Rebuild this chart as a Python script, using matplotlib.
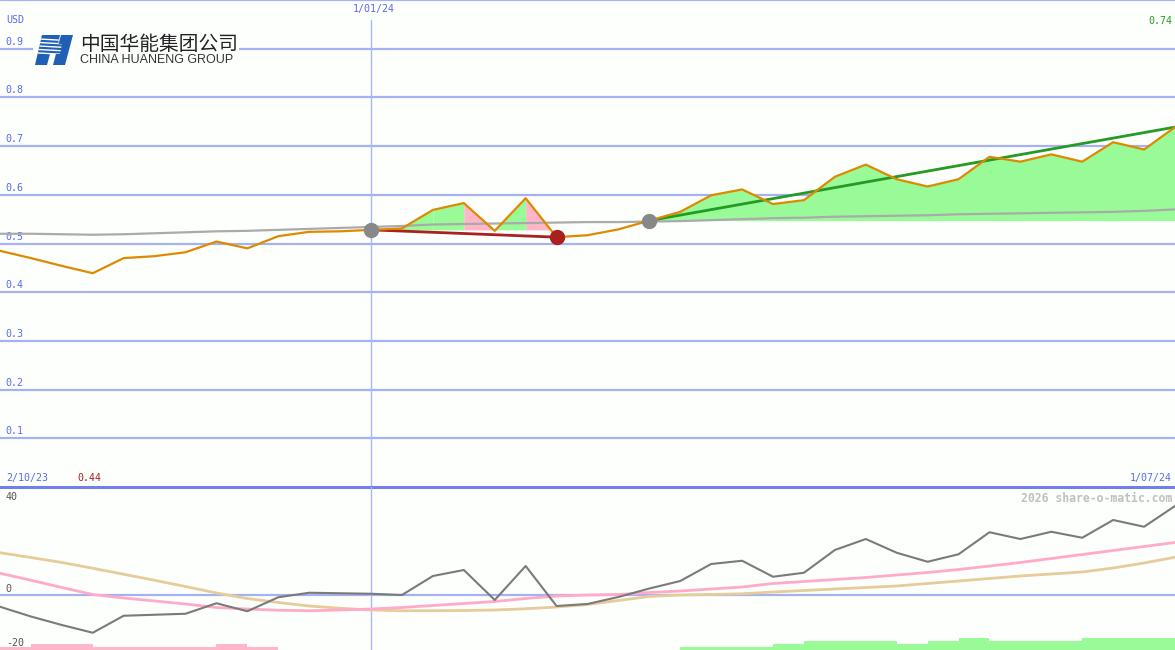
import matplotlib
matplotlib.use("Agg")
import matplotlib.pyplot as plt
from matplotlib.patches import Polygon, Rectangle

# weekly closes, USD (index 0 = 2/10/23, index 12 = 1/01/24, index 38 = 1/07/24)
price = [0.485, 0.470, 0.454, 0.439, 0.470, 0.474, 0.482, 0.504, 0.490, 0.515,
         0.524, 0.525, 0.528, 0.531, 0.569, 0.583, 0.526, 0.593, 0.513, 0.517,
         0.529, 0.547, 0.565, 0.599, 0.611, 0.581, 0.589, 0.637, 0.662, 0.632,
         0.617, 0.632, 0.678, 0.668, 0.683, 0.668, 0.708, 0.693, 0.739]
long_ma = [0.520, 0.520, 0.519, 0.518, 0.519, 0.521, 0.523, 0.525, 0.526, 0.528,
           0.530, 0.532, 0.534, 0.536, 0.539, 0.540, 0.541, 0.542, 0.543, 0.544,
           0.544, 0.545, 0.546, 0.548, 0.550, 0.552, 0.553, 0.555, 0.556, 0.557,
           0.558, 0.560, 0.561, 0.562, 0.563, 0.564, 0.565, 0.567, 0.570]
down_trend = (12, 18)
up_trend = (21, 38)

# lower panel
osc = [-4.7, -8.6, -12.0, -15.1, -8.3, -7.9, -7.5, -3.3, -6.5, -0.9,
       0.9, 0.7, 0.5, 0.0, 7.6, 10.0, -2.0, 11.6, -4.4, -3.6,
       -0.8, 2.6, 5.6, 12.4, 13.7, 7.3, 8.9, 18.0, 22.4, 16.9,
       13.3, 16.3, 25.1, 22.4, 25.3, 22.9, 30.0, 27.3, 35.6]
osc_fast = [8.7, 5.9, 3.0, 0.2, -1.2, -2.4, -3.6, -5.0, -5.6, -6.1,
            -6.3, -6.0, -5.6, -5.0, -4.2, -3.4, -2.6, -1.4, -0.4, 0.0,
            0.2, 1.0, 1.6, 2.4, 3.2, 4.6, 5.4, 6.2, 7.0, 8.0,
            9.0, 10.2, 11.6, 13.0, 14.6, 16.2, 17.8, 19.4, 21.0]
osc_slow = [16.9, 15.0, 13.0, 10.7, 8.3, 5.9, 3.4, 0.8, -1.4, -3.0,
            -4.4, -5.3, -6.0, -6.3, -6.3, -6.2, -6.0, -5.5, -4.8, -3.8,
            -2.2, -0.6, 0.0, 0.2, 0.5, 1.2, 1.8, 2.4, 3.0, 3.6,
            4.6, 5.6, 6.6, 7.6, 8.4, 9.2, 10.8, 12.8, 15.1]
hist = [-1, -2, -2, -1, -1, -1, -1, -2, -1, 0, 0, 0, 0, 0, 0, 0, 0, 0, 0,
        0, 0, 0, 1, 1, 1, 2, 3, 3, 3, 2, 3, 4, 3, 3, 3, 4, 4, 4]

price_ticks = [0.1, 0.2, 0.3, 0.4, 0.5, 0.6, 0.7, 0.8, 0.9]
osc_ticks = [40, 0, -20]
date_labels = ["2/10/23", "1/01/24", "1/07/24"]
date_idx = [0, 12, 38]

BG = "#fdfffd"
GRID = "#a4b2f2"
SEP = "#7080e6"
BLUE = "#5a6ae8"
ORANGE = "#dd8a00"
GREEN_FILL = "#98fb98"
PINK_FILL = "#ffb6c8"

plt.rcParams["font.family"] = ["DejaVu Sans Mono"]

fig = plt.figure(figsize=(11.75, 6.5), dpi=100)
fig.patch.set_facecolor(BG)
top_h = 487 / 650
ax = fig.add_axes([0, 1 - top_h, 1, top_h])
ax2 = fig.add_axes([0, 0, 1, 1 - top_h])
n = len(price)
x = list(range(n))
for a in (ax, ax2):
    a.set_axis_off()
    a.set_xlim(0, n - 1)

# %% price panel
ax.set_ylim(0, 1.0)
for v in price_ticks + [1.0]:
    ax.axhline(v, color=GRID, lw=1.6, zorder=1, clip_on=False)
    if v < 1.0:
        ax.text(0.005, v + 0.004, f"{v:.1f}", transform=ax.get_yaxis_transform(),
                fontsize=7.2, color=BLUE, va="bottom", ha="left")
ax.axvline(date_idx[1], ymax=1 - 20 / 487, color="#a8b6fa", lw=1, zorder=1)

# fill after the down-trend pivot: colour by direction of each week
s, e = down_trend
base = price[s]
for j in range(s, e):
    col = GREEN_FILL if price[j + 1] >= price[j] else PINK_FILL
    ax.fill_between([j, j + 1], [price[j], price[j + 1]], base,
                    color=col, lw=0, zorder=2)
s2, e2 = up_trend
ax.fill_between(x[s2:e2 + 1], price[s2:e2 + 1], price[s2], color=GREEN_FILL, lw=0, zorder=2)

ax.plot(x, long_ma, color="#aaaaaa", lw=1.6, zorder=3)
ax.plot([s, e], [price[s], price[e]], color="#a82020", lw=2, zorder=4)
ax.plot([s2, e2], [price[s2], price[e2]], color="#259a25", lw=2, zorder=4)
ax.plot(x, price, color=ORANGE, lw=1.6, zorder=5)
ax.plot([s, s2], [price[s], price[s2]], "o", ls="none", color="#888888", ms=10, zorder=6)
ax.plot([e], [price[e]], "o", color="#a82020", ms=10, zorder=6)
ax.axhline(0, color=SEP, lw=2.2, zorder=7, clip_on=False)

# %% oscillator panel
ax2.set_ylim(-22, 43.2)
ax2.axhline(0, color=GRID, lw=1.6, zorder=1)
ax2.axvline(date_idx[1], color="#a8b6fa", lw=1, zorder=1)
bar_cols = [PINK_FILL if h < 0 else GREEN_FILL for h in hist]
ax2.bar(range(len(hist)), [abs(h) * 1.2 for h in hist], width=1, bottom=-22,
        align="edge", color=bar_cols, lw=0, zorder=2)
ax2.plot(x, osc_slow, color="#e6cc99", lw=2, zorder=3)
ax2.plot(x, osc_fast, color="#ffaac8", lw=2, zorder=3)
ax2.plot(x, osc, color="#7a7a7a", lw=1.5, zorder=4)
for v, dy in zip(osc_ticks, [-1.0, 2.4, 1.0]):
    ax2.text(0.005, v + dy, str(v), transform=ax2.get_yaxis_transform(),
             fontsize=7.2, color="#555555", va="center", ha="left")
ax2.text(0.998, 0.93, "2026 share-o-matic.com", transform=ax2.transAxes,
         fontsize=8.3, color="#c0c0c0", fontweight="bold", ha="right", va="center")

# %% overlay: labels and logo, in pixel coordinates
ov = fig.add_axes([0, 0, 1, 1], zorder=10)
ov.set_xlim(0, 1175)
ov.set_ylim(650, 0)
ov.set_axis_off()
ov.patch.set_alpha(0)

ov.text(6, 20, "USD", fontsize=7.2, color=BLUE, va="center")
ov.text(374, 9, date_labels[1], fontsize=7.2, color=BLUE, ha="center", va="center")
ov.text(1172, 21, f"{price[-1]:.2f}", fontsize=7.2, color="#259a25", ha="right", va="center")
ov.text(6, 478, date_labels[0], fontsize=7.2, color=BLUE, va="center")
ov.text(77, 478, f"{min(price):.2f}", fontsize=7.2, color="#a82020", va="center")
ov.text(1172, 478, date_labels[2], fontsize=7.2, color=BLUE, ha="right", va="center")

ov.add_patch(Rectangle((33, 32), 206, 37, color=BG, lw=0))
LOGO = "#1f5fb4"
left_piece = Polygon([(42, 35), (60, 35), (58, 44), (62, 44), (60, 54), (50, 54),
                      (47, 65), (35, 65)], closed=True, color=LOGO, lw=0)
ov.add_patch(left_piece)
ov.add_patch(Polygon([(61, 35), (73, 35), (65, 65), (53, 65)], closed=True, color=LOGO, lw=0))
for yy in [38.5, 42, 45.5, 49, 52.5]:
    ln, = ov.plot([30, 66], [yy, yy + 2], color="white", lw=1.0)
    ln.set_clip_path(left_piece)
ov.text(80, 44, "中国华能集团公司", fontsize=14.2, color="#222222", va="center",
        family=["Noto Sans CJK SC", "DejaVu Sans"])
ov.text(80, 60, "CHINA HUANENG GROUP", fontsize=9, color="#333333", va="center",
        family=["Liberation Sans", "DejaVu Sans"])

plt.savefig("out.png", dpi=100, facecolor=BG)
